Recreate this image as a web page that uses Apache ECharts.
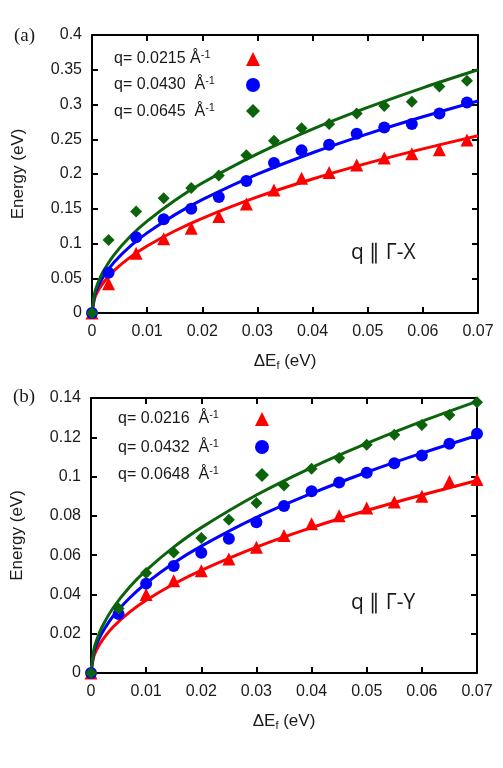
<!DOCTYPE html>
<html><head><meta charset="utf-8">
<script src="https://cdn.jsdelivr.net/npm/echarts@6/dist/echarts.min.js"></script>
<style>html,body{margin:0;padding:0;background:#fff}#c{width:503px;height:768px}</style>
</head><body><div id="c"></div>
<script>
// ---- Panel (a): q || Γ-X ----
const xA = [0, 0.003, 0.008, 0.013, 0.018, 0.023, 0.028, 0.033, 0.038, 0.043, 0.048, 0.053, 0.058, 0.063, 0.068];
const redA   = [0, 0.042, 0.086, 0.107, 0.122, 0.139, 0.157, 0.177, 0.194, 0.202, 0.213, 0.223, 0.229, 0.235, 0.249];
const blueA  = [0, 0.058, 0.109, 0.135, 0.150, 0.167, 0.190, 0.216, 0.234, 0.242, 0.258, 0.267, 0.272, 0.287, 0.303];
const greenA = [0, 0.105, 0.146, 0.165, 0.180, 0.198, 0.227, 0.248, 0.266, 0.272, 0.287, 0.298, 0.304, 0.326, 0.334];
const fitX = [0, 0.0005, 0.001, 0.002, 0.004, 0.007, 0.01, 0.015, 0.02, 0.03, 0.04, 0.05, 0.06, 0.07];
const fitRedA   = [0, 0.0216, 0.0305, 0.0431, 0.061, 0.0807, 0.0964, 0.118, 0.1363, 0.167, 0.1928, 0.2156, 0.2361, 0.255];
const fitBlueA  = [0, 0.0258, 0.0365, 0.0516, 0.0729, 0.0965, 0.1153, 0.1412, 0.163, 0.1997, 0.2306, 0.2578, 0.2824, 0.305];
const fitGreenA = [0, 0.0296, 0.0418, 0.0592, 0.0837, 0.1107, 0.1323, 0.162, 0.187, 0.229, 0.2646, 0.2958, 0.324, 0.350];
const legendA = ['q= 0.0215 Å', 'q= 0.0430  Å', 'q= 0.0645  Å'];

// ---- Panel (b): q || Γ-Y ----
const xB = [0, 0.005, 0.01, 0.015, 0.02, 0.025, 0.03, 0.035, 0.04, 0.045, 0.05, 0.055, 0.06, 0.065, 0.07];
const redB   = [0, null, 0.040, 0.047, 0.052, 0.058, 0.064, 0.070, 0.076, 0.080, 0.084, 0.087, 0.090, 0.0975, 0.0985];
const blueB  = [0, 0.030, 0.0455, 0.0545, 0.0612, 0.0684, 0.0768, 0.085, 0.0925, 0.097, 0.102, 0.1068, 0.1107, 0.1167, 0.1218];
const greenB = [0, 0.0328, 0.0509, 0.0614, 0.0687, 0.078, 0.0865, 0.0955, 0.104, 0.1094, 0.1162, 0.1213, 0.1263, 0.1314, 0.1378];
const fitRedB   = [0, 0.0083, 0.0117, 0.0165, 0.0234, 0.031, 0.037, 0.0453, 0.0523, 0.0641, 0.074, 0.0827, 0.0906, 0.098];
const fitBlueB  = [0, 0.0102, 0.0145, 0.0204, 0.0289, 0.0382, 0.0457, 0.056, 0.0646, 0.0792, 0.0914, 0.1022, 0.1119, 0.1209];
const fitGreenB = [0, 0.0117, 0.0165, 0.0234, 0.0331, 0.0438, 0.0523, 0.0641, 0.074, 0.0906, 0.1046, 0.1169, 0.1281, 0.1383];
const legendB = ['q= 0.0216  Å', 'q= 0.0432  Å', 'q= 0.0648  Å'];

const RED = '#ff0000', BLUE = '#0000ff', GREEN = '#0b640b';
const FONT = 'Liberation Sans';
const TXT = '#1a1a1a';
const zip = (xs, ys) => xs.map((x, i) => [x, ys[i]]).filter(p => p[1] !== null);

function xAxes(gi) {
  const base = {
    gridIndex: gi, type: 'value', min: 0, max: 0.07, interval: 0.01,
    axisLine: { onZero: false, lineStyle: { color: '#000', width: 2 } },
    axisTick: { inside: true, length: 6, lineStyle: { color: '#000', width: 2 } },
    splitLine: { show: false }
  };
  return [
    Object.assign({}, base, {
      position: 'bottom',
      axisLabel: { color: TXT, fontFamily: FONT, fontSize: 16, margin: 11,
        formatter: v => v === 0 ? '0' : v.toFixed(2) },
      name: '{a|ΔE}{s|f}{a| (eV)}', nameLocation: 'middle', nameGap: 38,
      nameTextStyle: { rich: {
        a: { fontFamily: FONT, fontSize: 17, color: TXT },
        s: { fontFamily: FONT, fontSize: 11, color: TXT, padding: [9, 0, 0, 0] } } }
    }),
    Object.assign({}, base, { position: 'top', axisLabel: { show: false } })
  ];
}
function yAxes(gi, max, interval) {
  const base = {
    gridIndex: gi, type: 'value', min: 0, max: max, interval: interval,
    axisLine: { onZero: false, lineStyle: { color: '#000', width: 2 } },
    axisTick: { inside: true, length: 6, lineStyle: { color: '#000', width: 2 } },
    splitLine: { show: false }
  };
  return [
    Object.assign({}, base, {
      position: 'left',
      axisLabel: { color: TXT, fontFamily: FONT, fontSize: 16, margin: 10,
        formatter: v => String(parseFloat(v.toFixed(4))) },
      name: 'Energy (eV)', nameLocation: 'middle', nameGap: 65,
      nameTextStyle: { fontFamily: FONT, fontSize: 17, color: TXT }
    }),
    Object.assign({}, base, { position: 'right', axisLabel: { show: false } })
  ];
}
function lineS(name, xi, yi, xs, ys, color) {
  return { name: name, type: 'line', xAxisIndex: xi, yAxisIndex: yi, data: zip(xs, ys),
    smooth: 0.3, showSymbol: false, lineStyle: { color: color, width: 3 }, z: 2, silent: true };
}
function scatS(name, xi, yi, xs, ys, color, sym, size) {
  return { name: name, type: 'scatter', xAxisIndex: xi, yAxisIndex: yi, data: zip(xs, ys),
    symbol: sym, symbolSize: size, itemStyle: { color: color, opacity: 1 }, z: 3 };
}
function legend(names, left, top, gap) {
  return {
    orient: 'vertical', left: left, top: top, itemGap: gap, padding: 0,
    itemWidth: 14, itemHeight: 14, data: names,
    formatter: () => '', textStyle: { fontSize: 8, lineHeight: 10 }
  };
}
const RICH = {
  a: { fontFamily: FONT, fontSize: 16, fill: TXT, color: TXT },
  s: { fontFamily: FONT, fontSize: 11, fill: TXT, color: TXT, padding: [0, 0, 9, 0] }
};
function legText(names, x, ys) {
  return names.map((n, i) => ({
    type: 'text', x: x, y: ys[i],
    style: { text: '{a|' + n + '}{s|-1}', rich: RICH, verticalAlign: 'middle', align: 'left' }
  }));
}

const chart = echarts.init(document.getElementById('c'), null, { renderer: 'canvas' });
chart.setOption({
  animation: false,
  backgroundColor: '#fff',
  grid: [
    { left: 92, top: 35, width: 386, height: 278 },
    { left: 91, top: 398, width: 386, height: 275 }
  ],
  xAxis: [].concat(xAxes(0), xAxes(1)),
  yAxis: [].concat(yAxes(0, 0.4, 0.05), yAxes(1, 0.14, 0.02)),
  legend: [
    legend(legendA, 246, 52, 12),
    legend(legendB, 255, 412, 14)
  ],
  graphic: [
    { type: 'text', x: 14, y: 36, style: { text: '(a)', font: '19px "Liberation Serif"', fill: TXT, verticalAlign: 'middle' } },
    { type: 'text', x: 13, y: 397, style: { text: '(b)', font: '19px "Liberation Serif"', fill: TXT, verticalAlign: 'middle' } },
    { type: 'text', x: 351, y: 253, style: { text: 'q ∥ Γ-X', font: '21px "Open Sans"', fill: TXT, verticalAlign: 'middle' } },
    { type: 'text', x: 351, y: 603, style: { text: 'q ∥ Γ-Y', font: '21px "Open Sans"', fill: TXT, verticalAlign: 'middle' } }
  ].concat(legText(legendA, 114, [59, 85, 112]), legText(legendB, 118, [419, 448, 475])),
  series: [
    lineS('fa-r', 0, 0, fitX, fitRedA, RED),
    lineS('fa-b', 0, 0, fitX, fitBlueA, BLUE),
    lineS('fa-g', 0, 0, fitX, fitGreenA, GREEN),
    scatS(legendA[0], 0, 0, xA, redA, RED, 'triangle', 13),
    scatS(legendA[1], 0, 0, xA, blueA, BLUE, 'circle', 12),
    scatS(legendA[2], 0, 0, xA, greenA, GREEN, 'diamond', 12),
    lineS('fb-r', 2, 2, fitX, fitRedB, RED),
    lineS('fb-b', 2, 2, fitX, fitBlueB, BLUE),
    lineS('fb-g', 2, 2, fitX, fitGreenB, GREEN),
    scatS(legendB[0], 2, 2, xB, redB, RED, 'triangle', 13),
    scatS(legendB[1], 2, 2, xB, blueB, BLUE, 'circle', 12),
    scatS(legendB[2], 2, 2, xB, greenB, GREEN, 'diamond', 12)
  ]
});
</script></body></html>
